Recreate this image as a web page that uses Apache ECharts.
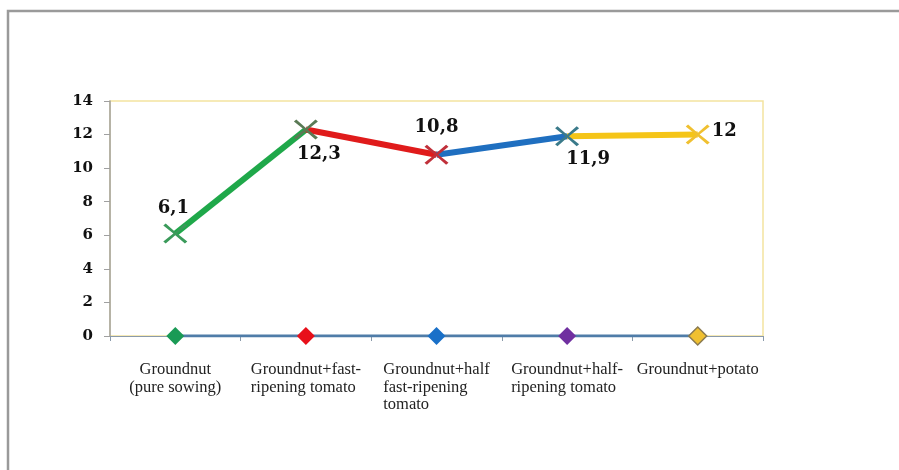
<!DOCTYPE html>
<html><head><meta charset="utf-8">
<script src="https://cdn.jsdelivr.net/npm/echarts@6/dist/echarts.min.js"></script>
<style>html,body{margin:0;padding:0;background:#fff}#c{width:899px;height:470px}</style>
</head><body><div id="c"></div>
<script>
var categories = ["Groundnut\n(pure sowing)", "Groundnut+fast-\nripening tomato", "Groundnut+half\nfast-ripening\ntomato", "Groundnut+half-\nripening tomato", "Groundnut+potato"];
var values = [6.1, 12.3, 10.8, 11.9, 12];
var baseline = [0, 0, 0, 0, 0];
var yTicks = [0, 2, 4, 6, 8, 10, 12, 14];
var segColors = ['#1fa84a', '#e01b1b', '#1f6fc0', '#f5c518'];
var crossColors = ['#3a9a5a', '#5a7a55', '#c0303a', '#3a7a8a', '#f0c030'];
var diamondColors = ['#1a9a55', '#e8101a', '#1a70c8', '#7030a0', '#f0c030'];
var labelPos = [
  {position: 'top', offset: [-2, -1]},
  {position: 'bottom', offset: [13, 1]},
  {position: 'top', offset: [0, -3]},
  {position: 'bottom', offset: [21, -1]},
  {position: 'right', offset: [-3, -3]}
];

var chart = echarts.init(document.getElementById('c'));
var series = [];
series.push({
  type: 'line', data: baseline.map(function (v, i) {
    return {value: v, itemStyle: {color: diamondColors[i], borderColor: i === 4 ? '#8a7a50' : diamondColors[i], borderWidth: i === 4 ? 1.5 : 0}};
  }),
  symbol: 'diamond', symbolSize: 18, showAllSymbol: true,
  lineStyle: {color: '#4f7ca8', width: 3}, z: 3, animation: false
});
for (var s = 0; s < 4; s++) {
  var d = values.map(function (v, i) { return (i === s || i === s + 1) ? v : '-'; });
  series.push({
    type: 'line', data: d, symbol: 'none',
    lineStyle: {color: segColors[s], width: 6}, z: 4, animation: false
  });
}
series.push({
  type: 'line', data: values.map(function (v, i) {
    return {value: v, itemStyle: {color: crossColors[i]}, label: labelPos[i]};
  }),
  symbol: 'path://M0,1 L1,0 L5,4.2 L9,0 L10,1 L5.8,5 L10,9 L9,10 L5,5.8 L1,10 L0,9 L4.2,5 Z',
  symbolSize: [24, 20], showAllSymbol: true,
  lineStyle: {width: 0, opacity: 0},
  label: {show: true, fontFamily: 'DejaVu Serif', fontWeight: 'bold', fontSize: 18, color: '#111',
    formatter: function (p) { return String(p.value).replace('.', ','); }},
  z: 5, animation: false
});

chart.setOption({
  backgroundColor: '#fff',
  animation: false,
  graphic: [{type: 'rect', shape: {x: 8, y: 11, width: 1000, height: 600},
    style: {fill: 'none', stroke: '#9a9a9a', lineWidth: 2.5}, silent: true}],
  grid: {left: 110, right: 136, top: 101, bottom: 134, show: true,
    borderColor: '#f3e3a0', borderWidth: 1.5, backgroundColor: 'transparent'},
  xAxis: {
    type: 'category', data: categories, boundaryGap: true,
    axisLine: {lineStyle: {color: '#8a9aaa', width: 1}},
    axisTick: {show: true, alignWithLabel: false, length: 5, lineStyle: {color: '#8a9aaa'}},
    axisLabel: {interval: 0, margin: 25, fontFamily: 'Liberation Serif', fontSize: 16.5, color: '#222', lineHeight: 17.5,
      formatter: function (v, i) {
        var lines = v.split('\n');
        var st = i === 0 ? 'c' : 'l';
        return lines.map(function (t) { return '{' + st + '|' + t + '}'; }).join('\n');
      },
      rich: {
        l: {align: 'left', fontFamily: 'Liberation Serif', fontSize: 16.5, color: '#222', lineHeight: 17.5},
        c: {align: 'center', fontFamily: 'Liberation Serif', fontSize: 16.5, color: '#222', lineHeight: 17.5}
      }
    }
  },
  yAxis: {
    type: 'value', min: 0, max: 14, interval: 2,
    axisLine: {show: true, lineStyle: {color: '#a0a0a0', width: 1.5}},
    axisTick: {show: true, length: 6, lineStyle: {color: '#a0a0a0'}},
    splitLine: {show: false},
    axisLabel: {margin: 17, fontFamily: 'DejaVu Serif', fontWeight: 'bold', fontSize: 15, color: '#111',
      formatter: function (v) { return yTicks.indexOf(v) >= 0 ? String(v) : ''; }}
  },
  series: series
});
</script></body></html>
